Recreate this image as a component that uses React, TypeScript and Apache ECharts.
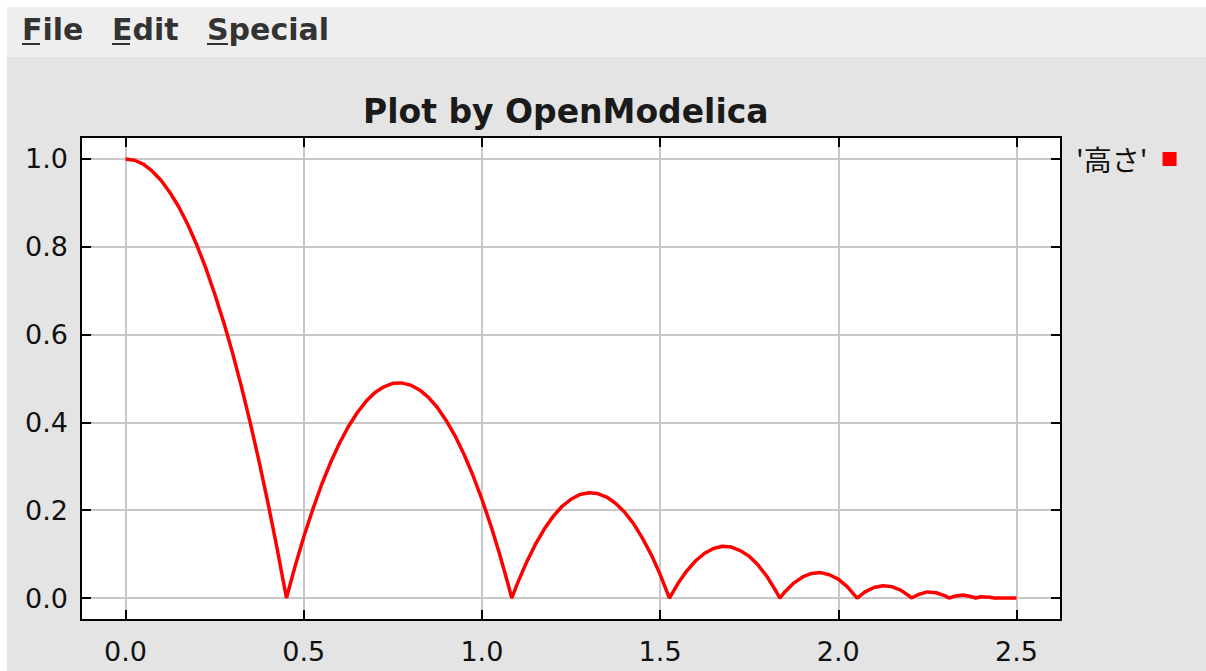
import React, { useEffect, useRef } from "react";
import * as echarts from "echarts";

const times = [
  0, 0.025, 0.05, 0.075, 0.1, 0.125, 0.15, 0.175, 0.2, 0.225, 0.25, 0.275, 0.3, 0.325, 0.35, 0.375, 0.4, 0.425, 0.45, 0.4515,
  0.475, 0.5, 0.525, 0.55, 0.575, 0.6, 0.625, 0.65, 0.675, 0.7, 0.725, 0.75, 0.775, 0.8, 0.825, 0.85, 0.875, 0.9, 0.925, 0.95, 0.975, 1.0, 1.025, 1.05, 1.075, 1.0837,
  1.1, 1.125, 1.15, 1.175, 1.2, 1.225, 1.25, 1.275, 1.3, 1.325, 1.35, 1.375, 1.4, 1.425, 1.45, 1.475, 1.5, 1.5263,
  1.55, 1.575, 1.6, 1.625, 1.65, 1.675, 1.7, 1.725, 1.75, 1.775, 1.8, 1.825, 1.836,
  1.85, 1.875, 1.9, 1.925, 1.95, 1.975, 2.0, 2.025, 2.053,
  2.075, 2.1, 2.125, 2.15, 2.175, 2.2, 2.205,
  2.225, 2.25, 2.275, 2.3, 2.311,
  2.325, 2.35, 2.375, 2.386,
  2.4, 2.425, 2.438, 2.45, 2.475, 2.5,
];

const heights = [
  1.0, 0.997, 0.988, 0.972, 0.951, 0.923, 0.89, 0.85, 0.804, 0.752, 0.693, 0.629, 0.559, 0.482, 0.399, 0.31, 0.215, 0.114, 0.007, 0,
  0.07, 0.139, 0.201, 0.258, 0.308, 0.352, 0.39, 0.422, 0.448, 0.468, 0.481, 0.489, 0.49, 0.485, 0.474, 0.457, 0.434, 0.404, 0.369, 0.327, 0.279, 0.225, 0.165, 0.099, 0.027, 0,
  0.034, 0.081, 0.122, 0.157, 0.186, 0.209, 0.225, 0.236, 0.24, 0.238, 0.23, 0.216, 0.196, 0.17, 0.137, 0.099, 0.054, 0,
  0.033, 0.062, 0.085, 0.102, 0.113, 0.118, 0.116, 0.108, 0.095, 0.075, 0.049, 0.016, 0,
  0.014, 0.034, 0.048, 0.056, 0.058, 0.053, 0.043, 0.026, 0,
  0.014, 0.024, 0.028, 0.026, 0.018, 0.004, 0,
  0.008, 0.014, 0.012, 0.005, 0,
  0.004, 0.007, 0.003, 0,
  0.003, 0.002, 0, 0, 0, 0,
];

const xTicks = [0, 0.5, 1.0, 1.5, 2.0, 2.5];
const yTicks = [0, 0.2, 0.4, 0.6, 0.8, 1.0];
const seriesName = "'高さ'";
const titleText = "Plot by OpenModelica";
const menuItems = ["File", "Edit", "Special"];

export default function App() {
  const ref = useRef<HTMLDivElement>(null);

  useEffect(() => {
    const chart = echarts.init(ref.current!, null, { renderer: "svg" });
    const data = times.map((t, i) => [t, heights[i]]);

    const tickStyle = { inside: true, length: 10, lineStyle: { color: "#000", width: 2 } };
    const lineStyle = { show: true, onZero: false, lineStyle: { color: "#000", width: 2 } };
    const gridLine = { show: true, lineStyle: { color: "#c8c8c8", width: 2 } };
    const labelStyle = { fontSize: 27, fontFamily: "DejaVu Sans", color: "#111" };

    const menuX = [15, 105, 200];
    const menuGraphics: any[] = [
      { type: "rect", left: 0, top: 0, shape: { width: 1199, height: 50 }, style: { fill: "#eeeeee" }, silent: true },
    ];
    menuItems.forEach((m, i) => {
      menuGraphics.push({
        type: "text",
        x: menuX[i],
        y: 22,
        style: { text: m, font: 'bold 30px "DejaVu Sans"', fill: "#333", verticalAlign: "middle" },
      });
      menuGraphics.push({
        type: "rect",
        shape: { x: menuX[i], y: 36, width: i === 2 ? 21 : 18, height: 2 },
        style: { fill: "#333" },
      });
    });

    chart.setOption({
      animation: false,
      backgroundColor: "#e4e4e4",
      textStyle: { fontFamily: "DejaVu Sans" },
      graphic: menuGraphics,
      title: {
        text: titleText,
        left: 356,
        top: 88,
        padding: 0,
        textStyle: { fontSize: 33, fontWeight: "bold", fontFamily: "DejaVu Sans", color: "#1a1a1a" },
      },
      legend: {
        data: [seriesName],
        left: 1064,
        top: 133,
        align: "right",
        icon: "rect",
        itemWidth: 14,
        itemHeight: 14,
        textStyle: { fontSize: 28, fontFamily: "Noto Sans CJK JP", color: "#111", padding: [10, 10, 0, 0] },
      },
      grid: {
        left: 74,
        right: 145,
        top: 130,
        bottom: 51,
        show: true,
        backgroundColor: "#fff",
        borderColor: "#000",
        borderWidth: 2,
      },
      xAxis: [
        {
          type: "value",
          position: "bottom",
          min: -0.125,
          max: 2.625,
          axisLine: lineStyle,
          axisTick: { ...tickStyle, customValues: xTicks },
          axisLabel: { ...labelStyle, margin: 18, customValues: xTicks, formatter: (v: number) => v.toFixed(1) },
          splitLine: gridLine,
        },
        {
          type: "value",
          position: "top",
          min: -0.125,
          max: 2.625,
          axisLine: lineStyle,
          axisTick: { ...tickStyle, customValues: xTicks },
          axisLabel: { show: false, customValues: xTicks },
          splitLine: { show: false },
        },
      ],
      yAxis: [
        {
          type: "value",
          position: "left",
          min: -0.05,
          max: 1.05,
          axisLine: lineStyle,
          axisTick: { ...tickStyle, customValues: yTicks },
          axisLabel: { ...labelStyle, margin: 13, padding: [11, 0, 0, 0], customValues: yTicks, formatter: (v: number) => v.toFixed(1) },
          splitLine: gridLine,
        },
        {
          type: "value",
          position: "right",
          min: -0.05,
          max: 1.05,
          axisLine: lineStyle,
          axisTick: { ...tickStyle, customValues: yTicks },
          axisLabel: { show: false, customValues: yTicks },
          splitLine: { show: false },
        },
      ],
      series: [
        {
          name: seriesName,
          type: "line",
          xAxisIndex: 0,
          yAxisIndex: 0,
          data,
          showSymbol: false,
          symbol: "none",
          lineStyle: { color: "#ff0000", width: 3.5 },
          itemStyle: { color: "#ff0000" },
        },
      ],
    });

    return () => chart.dispose();
  }, []);

  return <div ref={ref} style={{ position: "fixed", left: 7, top: 7, width: 1199, height: 664 }} />;
}
